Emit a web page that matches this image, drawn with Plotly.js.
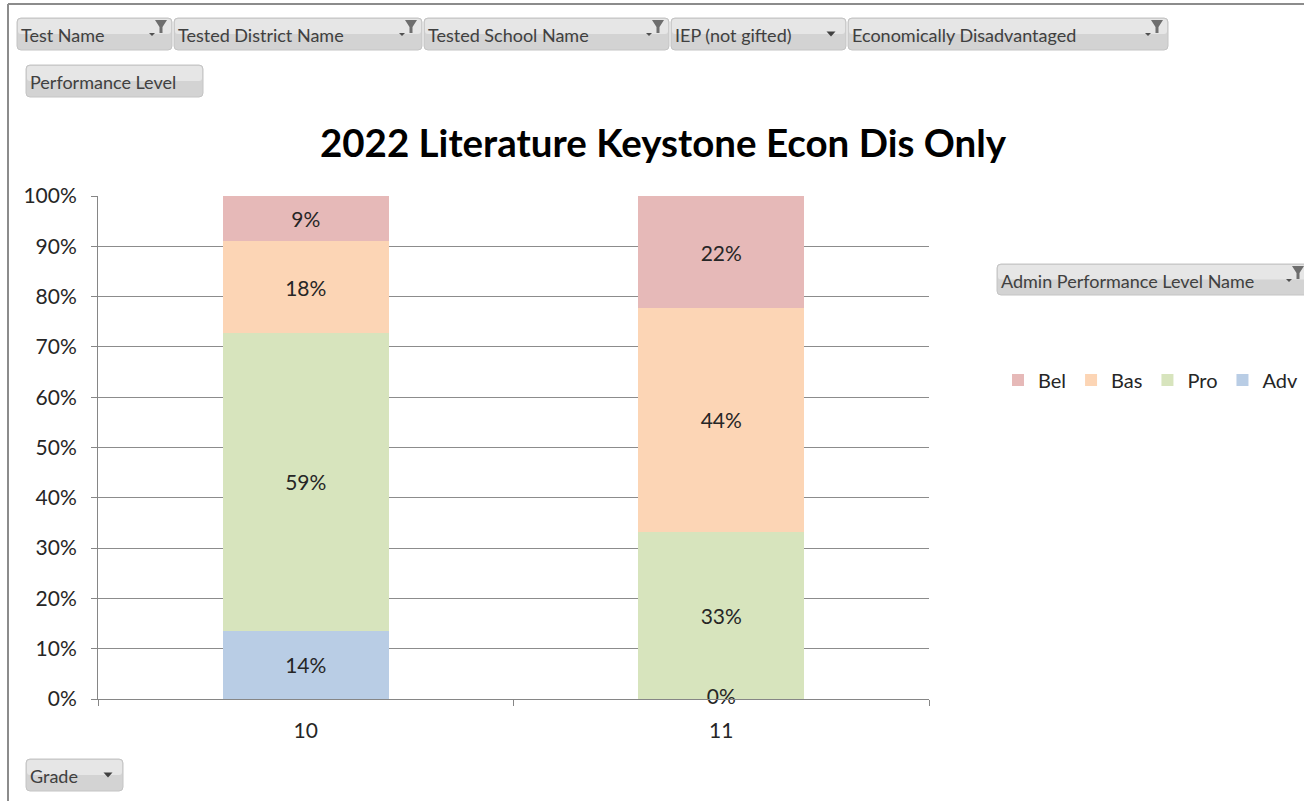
<!DOCTYPE html>
<html>
<head>
<meta charset="utf-8">
<script src="https://cdn.plot.ly/plotly-3.0.1.min.js"></script>
<style>html,body{margin:0;padding:0;background:#fff;}#chart{width:1304px;height:801px;}</style>
</head>
<body>
<div id="chart"></div>
<script>
// ---- data ----
const grades = ['10', '11'];
const levelNames = ['Adv', 'Pro', 'Bas', 'Bel'];          // bottom to top
const advValues = [0.136, 0.0];
const proValues = [0.591, 0.333];
const basValues = [0.183, 0.444];
const belValues = [0.090, 0.223];
const chartTitle = '2022 Literature Keystone Econ Dis Only';
const filterButtons = ['Test Name', 'Tested District Name', 'Tested School Name', 'IEP (not gifted)', 'Economically Disadvantaged'];
const otherButtons = ['Performance Level', 'Admin Performance Level Name', 'Grade'];

// ---- layout geometry ----
const W = 1304, H = 801, L = 98, R = 375, T = 196, B = 102;
const PW = W - L - R, PH = H - T - B;
const px2x = p => (p - L) / PW;
const py2y = p => (H - B - p) / PH;

const colors = {Adv: '#b9cde5', Pro: '#d7e4bd', Bas: '#fcd5b5', Bel: '#e6b9b8'};
const seriesValues = {Adv: advValues, Pro: proValues, Bas: basValues, Bel: belValues};
const FONT = 'Lato, "Open Sans", sans-serif';
const txtColor = '#262626';

const traces = levelNames.map(name => ({
  type: 'bar',
  name: name,
  x: grades,
  y: seriesValues[name],
  text: seriesValues[name].map(v => v > 0 ? Math.round(v * 100) + '%' : ''),
  textposition: 'inside',
  insidetextanchor: 'middle',
  textangle: 0,
  constraintext: 'none',
  insidetextfont: {family: FONT, size: 21, color: txtColor},
  marker: {color: colors[name], line: {width: 0}},
  hoverinfo: 'skip',
  width: 0.4
}));

// zero-value labels (Excel still shows "0%" at the baseline)
const zx = [], zy = [], zt = [];
levelNames.forEach(name => {
  seriesValues[name].forEach((v, i) => {
    if (v === 0) {
      let base = 0;
      for (const n of levelNames) { if (n === name) break; base += seriesValues[n][i]; }
      zx.push(grades[i]); zy.push(base); zt.push('0%');
    }
  });
});
traces.push({
  type: 'scatter', mode: 'text', x: zx, y: zy, text: zt,
  textposition: 'middle center', textfont: {family: FONT, size: 21, color: txtColor},
  showlegend: false, hoverinfo: 'skip', cliponaxis: false
});

// ---- buttons (pivot field buttons) ----
const shapes = [];
const annotations = [];
function rectPath(x0, y0, x1, y1, r) {
  const P = (x, y) => px2x(x) + ',' + py2y(y);
  return 'M' + P(x0 + r, y0) + ' L' + P(x1 - r, y0) + ' Q' + P(x1, y0) + ' ' + P(x1, y0 + r) +
    ' L' + P(x1, y1 - r) + ' Q' + P(x1, y1) + ' ' + P(x1 - r, y1) +
    ' L' + P(x0 + r, y1) + ' Q' + P(x0, y1) + ' ' + P(x0, y1 - r) +
    ' L' + P(x0, y0 + r) + ' Q' + P(x0, y0) + ' ' + P(x0 + r, y0) + ' Z';
}
function poly(pts) {
  return 'M' + pts.map(p => px2x(p[0]) + ',' + py2y(p[1])).join(' L') + ' Z';
}
function button(x0, y0, x1, y1, text, icon) {
  shapes.push({type: 'path', xref: 'paper', yref: 'paper', path: rectPath(x0, y0, x1, y1, 4),
    fillcolor: '#d3d3d3', line: {color: '#c4c4c4', width: 1}});
  shapes.push({type: 'path', xref: 'paper', yref: 'paper', path: rectPath(x0 + 1, y0 + 1, x1 - 1, (y0 + y1) / 2, 3),
    fillcolor: '#e6e6e6', line: {width: 0}});
  annotations.push({xref: 'paper', yref: 'paper', x: px2x(x0 + 2), y: py2y((y0 + y1) / 2 + 1),
    xanchor: 'left', yanchor: 'middle', text: text, showarrow: false,
    font: {family: FONT, size: 18, color: '#404040'}});
  if (icon === 'filter') {
    const fx = x1 - 17;
    shapes.push({type: 'path', xref: 'paper', yref: 'paper',
      path: poly([[fx, y0 + 2], [fx + 12, y0 + 2], [fx + 7.5, y0 + 9], [fx + 7.5, y0 + 15], [fx + 4.5, y0 + 15], [fx + 4.5, y0 + 9]]),
      fillcolor: '#6e6e6e', line: {width: 0}});
    shapes.push({type: 'path', xref: 'paper', yref: 'paper',
      path: poly([[fx - 6, y0 + 15], [fx, y0 + 15], [fx - 3, y0 + 18]]),
      fillcolor: '#505050', line: {width: 0}});
  } else if (icon === 'drop') {
    const cx = x1 - 15, cy = (y0 + y1) / 2;
    shapes.push({type: 'path', xref: 'paper', yref: 'paper',
      path: poly([[cx - 4.5, cy - 2.5], [cx + 4.5, cy - 2.5], [cx, cy + 2.5]]),
      fillcolor: '#404040', line: {width: 0}});
  }
}
button(17, 18, 172, 50, filterButtons[0], 'filter');
button(174, 18, 422, 50, filterButtons[1], 'filter');
button(424, 18, 669, 50, filterButtons[2], 'filter');
button(671, 18, 846, 50, filterButtons[3], 'drop');
button(848, 18, 1168, 50, filterButtons[4], 'filter');
button(26, 65, 203, 97, otherButtons[0], null);
button(997, 264, 1309, 295, otherButtons[1], 'filter');
button(26, 759, 123, 791, otherButtons[2], 'drop');

// chart frame
shapes.push({type: 'line', xref: 'paper', yref: 'paper', x0: px2x(8), x1: px2x(1310), y0: py2y(4), y1: py2y(4),
  line: {color: '#8c8c8c', width: 2}});
shapes.push({type: 'line', xref: 'paper', yref: 'paper', x0: px2x(8), x1: px2x(8), y0: py2y(4), y1: py2y(805),
  line: {color: '#8c8c8c', width: 2}});

const layout = {
  width: W, height: H,
  margin: {l: L, r: R, t: T, b: B, pad: 0, autoexpand: false},
  paper_bgcolor: '#ffffff', plot_bgcolor: '#ffffff',
  barmode: 'stack',
  showlegend: true,
  title: {text: chartTitle, x: 663 / W, xref: 'container', xanchor: 'center', y: 1 - 144 / H, yref: 'container', yanchor: 'middle',
    font: {family: FONT, size: 38.5, weight: 'bold', color: '#000000'}},
  xaxis: {type: 'category', tickson: 'boundaries', ticks: 'outside', ticklen: 6, tickcolor: '#868686',
    showline: true, linecolor: '#868686', linewidth: 1, showgrid: false, zeroline: false,
    tickfont: {family: FONT, size: 21, color: txtColor}, ticklabelstandoff: 13, range: [-0.5, 1.5]},
  yaxis: {range: [0, 1], dtick: 0.1, tickformat: '.0%', ticks: 'outside', ticklen: 6, tickcolor: '#868686',
    showline: true, linecolor: '#868686', linewidth: 1, showgrid: true, gridcolor: '#8c8c8c', gridwidth: 1,
    zeroline: false, tickfont: {family: FONT, size: 21, color: txtColor}, ticklabelstandoff: 10},
  legend: {orientation: 'h', xref: 'container', yref: 'container', x: 998 / W, xanchor: 'left', y: 1 - 380 / H, yanchor: 'middle',
    traceorder: 'reversed', font: {family: FONT, size: 20, color: txtColor}, itemwidth: 30,
    bgcolor: 'rgba(0,0,0,0)'},
  shapes: shapes,
  annotations: annotations
};

Plotly.newPlot('chart', traces, layout, {displayModeBar: false, staticPlot: true});
</script>
</body>
</html>
